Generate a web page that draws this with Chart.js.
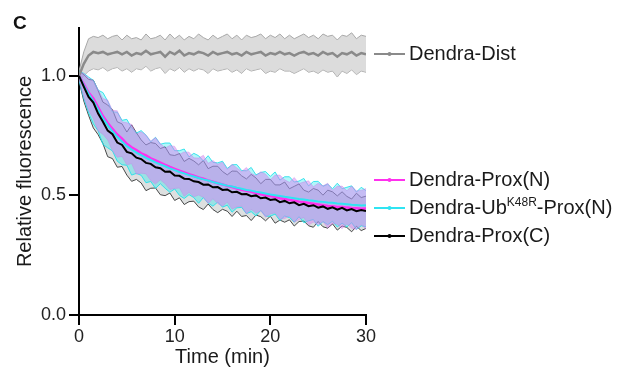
<!DOCTYPE html>
<html>
<head>
<meta charset="utf-8">
<script src="https://cdn.jsdelivr.net/npm/chart.js"></script>
<style>
  body { margin: 0; background: #fff; }
</style>
</head>
<body>
<canvas id="myChart" width="623" height="369"></canvas>
<script>
// time points (min)
const times = [0,0.5,1,1.5,2,2.5,3,3.5,4,4.5,5,5.5,6,6.5,7,7.5,8,8.5,9,9.5,10,10.5,11,11.5,12,12.5,13,13.5,14,14.5,15,15.5,16,16.5,17,17.5,18,18.5,19,19.5,20,20.5,21,21.5,22,22.5,23,23.5,24,24.5,25,25.5,26,26.5,27,27.5,28,28.5,29,29.5,30];

// Dendra-Dist
const distMean = [1.00,1.05,1.085,1.10,1.095,1.10,1.09,1.095,1.10,1.09,1.10,1.085,1.095,1.09,1.105,1.09,1.095,1.10,1.08,1.10,1.09,1.105,1.085,1.095,1.09,1.10,1.095,1.085,1.10,1.09,1.095,1.10,1.09,1.095,1.085,1.10,1.09,1.095,1.10,1.085,1.095,1.09,1.10,1.09,1.095,1.085,1.095,1.10,1.09,1.095,1.085,1.10,1.09,1.095,1.08,1.095,1.09,1.10,1.085,1.095,1.09];
const distHi = [1.02,1.10,1.155,1.165,1.16,1.17,1.155,1.165,1.17,1.15,1.17,1.155,1.16,1.15,1.175,1.155,1.16,1.17,1.15,1.175,1.155,1.17,1.15,1.165,1.155,1.175,1.16,1.15,1.17,1.155,1.165,1.175,1.155,1.17,1.15,1.17,1.16,1.165,1.175,1.155,1.17,1.16,1.175,1.155,1.17,1.155,1.165,1.175,1.16,1.17,1.155,1.175,1.165,1.17,1.15,1.17,1.165,1.18,1.155,1.17,1.165];
const distLo = [0.98,1.0,1.02,1.03,1.025,1.035,1.02,1.03,1.035,1.02,1.03,1.015,1.03,1.025,1.04,1.02,1.03,1.035,1.01,1.03,1.02,1.035,1.015,1.03,1.02,1.03,1.025,1.01,1.03,1.02,1.025,1.03,1.015,1.025,1.01,1.03,1.02,1.025,1.03,1.01,1.02,1.015,1.03,1.02,1.02,1.01,1.02,1.03,1.015,1.02,1.01,1.025,1.015,1.02,0.995,1.02,1.01,1.025,1.005,1.02,1.015];

// Dendra-Prox(N)
const proxNMean = [1.00,0.965,0.93,0.905,0.868,0.832,0.803,0.779,0.755,0.737,0.716,0.701,0.690,0.676,0.667,0.655,0.646,0.637,0.628,0.619,0.611,0.603,0.596,0.589,0.583,0.575,0.570,0.563,0.557,0.551,0.546,0.540,0.535,0.529,0.524,0.519,0.515,0.510,0.505,0.501,0.497,0.493,0.488,0.485,0.481,0.478,0.474,0.471,0.468,0.465,0.462,0.459,0.456,0.455,0.452,0.452,0.449,0.447,0.446,0.444,0.445];
const proxNHi = [1.015,1.01,0.99,0.980,0.942,0.905,0.899,0.856,0.854,0.808,0.804,0.797,0.757,0.766,0.753,0.728,0.742,0.717,0.698,0.709,0.705,0.672,0.682,0.681,0.657,0.656,0.668,0.634,0.646,0.630,0.639,0.609,0.630,0.615,0.600,0.617,0.592,0.582,0.599,0.589,0.565,0.585,0.585,0.565,0.555,0.575,0.550,0.556,0.561,0.536,0.551,0.540,0.551,0.522,0.538,0.539,0.519,0.539,0.519,0.521,0.529];
const proxNLo = [0.985,0.91,0.855,0.822,0.769,0.756,0.732,0.687,0.660,0.663,0.628,0.633,0.589,0.593,0.590,0.562,0.548,0.565,0.549,0.525,0.529,0.531,0.496,0.513,0.494,0.502,0.492,0.466,0.486,0.466,0.455,0.472,0.443,0.452,0.455,0.422,0.442,0.426,0.435,0.409,0.423,0.427,0.401,0.403,0.414,0.388,0.399,0.408,0.377,0.388,0.377,0.390,0.364,0.383,0.379,0.361,0.381,0.363,0.357,0.377,0.360];

// Dendra-UbK48R-Prox(N)
const ubMean = [1.00,0.96,0.925,0.895,0.858,0.822,0.793,0.768,0.745,0.725,0.706,0.692,0.679,0.668,0.657,0.648,0.638,0.630,0.622,0.613,0.606,0.598,0.592,0.585,0.579,0.573,0.567,0.562,0.556,0.551,0.546,0.541,0.537,0.532,0.528,0.523,0.520,0.515,0.512,0.508,0.504,0.501,0.498,0.494,0.491,0.488,0.485,0.483,0.480,0.478,0.475,0.473,0.470,0.469,0.466,0.465,0.463,0.461,0.460,0.458,0.459];
const ubHi = [1.02,1.01,0.995,0.981,0.940,0.930,0.894,0.849,0.848,0.814,0.818,0.783,0.761,0.771,0.752,0.724,0.743,0.714,0.719,0.719,0.687,0.687,0.694,0.661,0.676,0.666,0.644,0.666,0.638,0.636,0.643,0.613,0.628,0.629,0.604,0.603,0.617,0.586,0.596,0.600,0.580,0.598,0.564,0.578,0.578,0.556,0.560,0.571,0.540,0.558,0.559,0.538,0.547,0.528,0.551,0.528,0.534,0.540,0.514,0.534,0.520];
const ubLo = [0.98,0.905,0.845,0.799,0.770,0.713,0.699,0.686,0.643,0.628,0.626,0.585,0.592,0.584,0.553,0.558,0.529,0.549,0.530,0.513,0.527,0.500,0.487,0.503,0.491,0.467,0.491,0.468,0.455,0.472,0.451,0.459,0.430,0.448,0.450,0.424,0.432,0.414,0.438,0.413,0.413,0.422,0.395,0.414,0.407,0.388,0.411,0.386,0.394,0.399,0.371,0.391,0.378,0.392,0.368,0.384,0.368,0.386,0.358,0.373,0.369];

// Dendra-Prox(C)
const proxCMean = [1.00,0.955,0.912,0.888,0.842,0.808,0.771,0.756,0.721,0.711,0.682,0.676,0.658,0.652,0.636,0.632,0.618,0.614,0.599,0.600,0.583,0.582,0.570,0.569,0.559,0.556,0.545,0.546,0.534,0.535,0.523,0.525,0.513,0.515,0.505,0.506,0.497,0.500,0.488,0.491,0.481,0.484,0.472,0.477,0.467,0.471,0.459,0.465,0.455,0.459,0.449,0.454,0.444,0.450,0.440,0.448,0.437,0.443,0.434,0.439,0.435];
const proxCHi = [1.02,1.005,0.985,0.982,0.938,0.890,0.878,0.858,0.808,0.799,0.765,0.795,0.762,0.732,0.711,0.721,0.717,0.696,0.703,0.670,0.667,0.675,0.642,0.655,0.644,0.628,0.646,0.612,0.622,0.622,0.600,0.586,0.602,0.601,0.582,0.569,0.588,0.573,0.549,0.567,0.567,0.544,0.544,0.556,0.528,0.538,0.548,0.522,0.514,0.529,0.522,0.501,0.522,0.515,0.498,0.515,0.496,0.485,0.509,0.491,0.497];
const proxCLo = [0.98,0.895,0.835,0.782,0.754,0.717,0.662,0.654,0.618,0.621,0.585,0.559,0.567,0.552,0.520,0.530,0.531,0.503,0.499,0.510,0.479,0.490,0.462,0.474,0.476,0.452,0.441,0.464,0.441,0.428,0.442,0.434,0.412,0.434,0.412,0.416,0.395,0.418,0.411,0.394,0.413,0.384,0.397,0.388,0.398,0.372,0.391,0.393,0.373,0.367,0.391,0.369,0.363,0.381,0.355,0.372,0.366,0.348,0.371,0.353,0.362];

const yTicks = [0, 0.5, 1.0];
const xTicks = [0, 10, 20, 30];

const FONT = "'Liberation Sans', Arial, sans-serif";

function pts(arr) {
  return arr.map((v, i) => ({x: times[i], y: v}));
}

function line(arr, color, width, order) {
  return {
    data: pts(arr),
    borderColor: color,
    borderWidth: width,
    pointRadius: 0,
    fill: false,
    tension: 0,
    order: order
  };
}

function band(hi, lo, fillColor, edgeColor, order) {
  return [
    {
      data: pts(hi),
      borderColor: edgeColor,
      borderWidth: 1,
      pointRadius: 0,
      backgroundColor: fillColor,
      fill: '+1',
      order: order
    },
    {
      data: pts(lo),
      borderColor: edgeColor,
      borderWidth: 1,
      pointRadius: 0,
      fill: false,
      order: order
    }
  ];
}

const datasets = [
  line(proxCMean, '#000000', 2, 1),
  line(ubMean, '#2fe4f2', 2, 2),
  line(proxNMean, '#ff30ee', 2.5, 3),
  line(distMean, '#8a8a8a', 2.5, 4),
  ...band(proxNHi, proxNLo, 'rgba(215,130,240,0.5)', 'rgba(190,120,225,0.35)', 10),
  ...band(ubHi, ubLo, 'rgba(0,225,235,0.3)', 'rgba(40,225,235,0.9)', 11),
  ...band(proxCHi, proxCLo, 'rgba(120,130,130,0.25)', 'rgba(30,30,30,0.85)', 12),
  ...band(distHi, distLo, 'rgba(205,205,205,0.7)', '#a8a8a8', 13)
];

const legendItems = [
  {text: 'Dendra-Dist', color: '#8a8a8a', y: 54},
  {text: 'Dendra-Prox(N)', color: '#ff30ee', y: 180},
  {text: 'Dendra-Ub', sup: 'K48R', rest: '-Prox(N)', color: '#2fe4f2', y: 208},
  {text: 'Dendra-Prox(C)', color: '#000000', y: 236}
];

const sideLegend = {
  id: 'sideLegend',
  afterDraw(chart) {
    const ctx = chart.ctx;
    ctx.save();
    // panel letter
    ctx.fillStyle = '#111';
    ctx.font = 'bold 19px ' + FONT;
    ctx.textBaseline = 'alphabetic';
    ctx.fillText('C', 13, 29);

    ctx.textBaseline = 'middle';
    legendItems.forEach(item => {
      ctx.strokeStyle = item.color;
      ctx.lineWidth = 2;
      ctx.beginPath();
      ctx.moveTo(374, item.y);
      ctx.lineTo(405, item.y);
      ctx.stroke();
      ctx.fillStyle = item.color;
      ctx.beginPath();
      ctx.arc(389.5, item.y, 2, 0, Math.PI * 2);
      ctx.fill();

      ctx.fillStyle = '#1a1a1a';
      ctx.font = '20px ' + FONT;
      let x = 409;
      ctx.fillText(item.text, x, item.y);
      x += ctx.measureText(item.text).width;
      if (item.sup) {
        ctx.font = '12px ' + FONT;
        ctx.fillText(item.sup, x, item.y - 5);
        x += ctx.measureText(item.sup).width;
        ctx.font = '20px ' + FONT;
        ctx.fillText(item.rest, x, item.y);
      }
    });
    ctx.restore();
  }
};

const ctx = document.getElementById('myChart').getContext('2d');
const myChart = new Chart(ctx, {
  type: 'line',
  data: { datasets: datasets },
  options: {
    responsive: false,
    animation: false,
    layout: { padding: { top: 28, right: 257, left: 0, bottom: 0 } },
    plugins: {
      legend: { display: false },
      tooltip: { enabled: false }
    },
    scales: {
      x: {
        type: 'linear',
        min: 0,
        max: 30,
        afterBuildTicks: scale => { scale.ticks = xTicks.map(v => ({value: v})); },
        afterFit: scale => { scale.height = 54; },
        grid: { drawOnChartArea: false, drawTicks: true, tickLength: 10, color: '#000', lineWidth: 2 },
        border: { display: true, color: '#000', width: 2 },
        ticks: { color: '#222', font: { family: FONT, size: 18 }, padding: 1, maxRotation: 0 },
        title: { display: true, text: 'Time (min)', color: '#1a1a1a', font: { family: FONT, size: 20 }, padding: { top: 0, bottom: 0 } }
      },
      y: {
        min: 0,
        max: 1.2,
        afterBuildTicks: scale => { scale.ticks = yTicks.map(v => ({value: v})); },
        afterFit: scale => { scale.width = 79; },
        grid: { drawOnChartArea: false, drawTicks: true, tickLength: 10, color: '#000', lineWidth: 2 },
        border: { display: true, color: '#000', width: 2 },
        ticks: { color: '#222', font: { family: FONT, size: 18 }, padding: 3, callback: v => v.toFixed(1) },
        title: { display: true, text: 'Relative fluorescence', color: '#1a1a1a', font: { family: FONT, size: 20 }, padding: { top: 13, bottom: 0 } }
      }
    }
  },
  plugins: [sideLegend]
});
</script>
</body>
</html>
